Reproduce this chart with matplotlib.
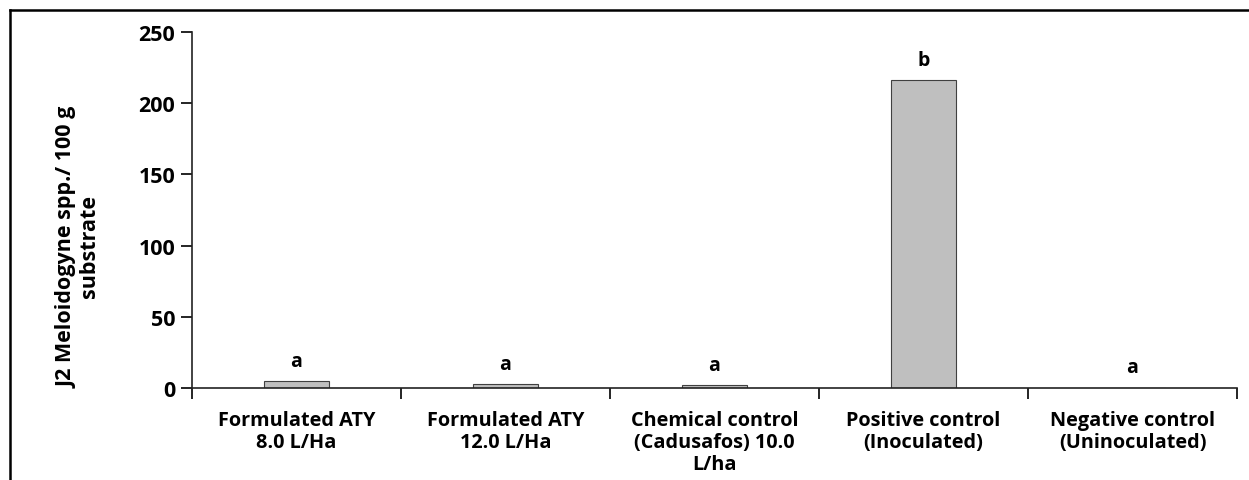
import numpy as np
import matplotlib.pyplot as plt
from matplotlib.lines import Line2D

# Data
categories = ["Formulated ATY\n8.0 L/Ha",
              "Formulated ATY\n12.0 L/Ha",
              "Chemical control\n(Cadusafos) 10.0\nL/ha",
              "Positive control\n(Inoculated)",
              "Negative control\n(Uninoculated)"]
j2_counts = [4.7, 2.6, 1.9, 216.0, 0.3]
letters = ["a", "a", "a", "b", "a"]
y_ticks = [0, 50, 100, 150, 200, 250]

plt.rcParams['font.family'] = ['Open Sans', 'DejaVu Sans']
plt.rcParams['font.weight'] = 'bold'

fig = plt.figure(figsize=(12.49, 4.81), dpi=100)
ax = fig.add_axes([192 / 1249, 1 - 389 / 481, (1237 - 192) / 1249, (389 - 33) / 481])

x = np.arange(len(categories))
bars = ax.bar(x, j2_counts, width=0.31, color="#BFBFBF", edgecolor="#404040", linewidth=0.8, zorder=2)

# significance letters above each bar
for xi, val, lab in zip(x, j2_counts, letters):
    ax.annotate(lab, (xi, val), xytext=(0, 14.5), textcoords="offset points",
                ha="center", va="center", fontsize=14, fontweight="bold")

ax.set_xlim(-0.5, len(categories) - 0.5)
ax.set_ylim(0, 250)
ax.set_yticks(y_ticks)
ax.set_yticklabels([str(t) for t in y_ticks], fontsize=15.5, fontweight="bold")
ax.tick_params(axis="y", direction="out", length=8, width=1.2, pad=4)

# category labels at centres, tick marks at boundaries
ax.set_xticks(x)
ax.set_xticklabels(categories, fontsize=14.3, fontweight="bold", linespacing=1.12)
ax.tick_params(axis="x", which="major", length=0, pad=16)
ax.set_xticks(np.arange(-0.5, len(categories)), minor=True)
ax.tick_params(axis="x", which="minor", direction="out", length=8, width=1.2)

for s in ["top", "right"]:
    ax.spines[s].set_visible(False)
for s in ["left", "bottom"]:
    ax.spines[s].set_linewidth(1.2)
    ax.spines[s].set_color("#222222")

fig.text(78 / 1249, 1 - 247 / 481, "J2 Meloidogyne spp./ 100 g\nsubstrate",
         rotation=90, ha="center", va="center", fontsize=15.5, fontweight="bold",
         linespacing=1.1)

# outer frame (left and top edges visible)
fig.add_artist(Line2D([10 / 1249, 10 / 1249], [0, 1 - 11 / 481], color="black", linewidth=1.8,
                      transform=fig.transFigure))
fig.add_artist(Line2D([10 / 1249, 1], [1 - 11 / 481, 1 - 11 / 481], color="black", linewidth=1.8,
                      transform=fig.transFigure))

fig.savefig("out.png", dpi=100)
